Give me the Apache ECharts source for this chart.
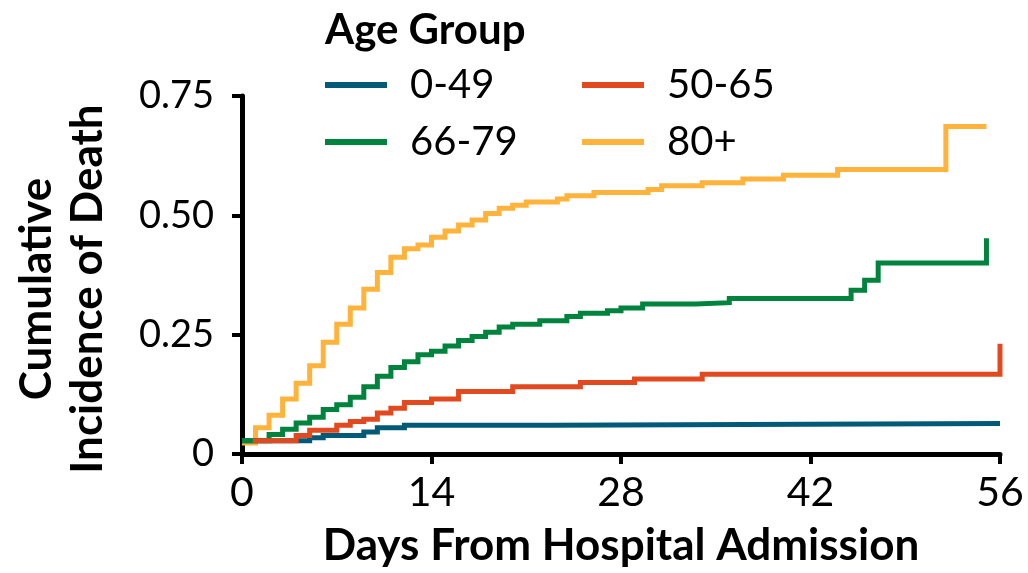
<!DOCTYPE html>
<html>
<head>
<meta charset="utf-8">
<script src="https://cdn.jsdelivr.net/npm/echarts@6/dist/echarts.min.js"></script>
<style>
html,body{margin:0;padding:0;background:#fff;}
#c{width:1028px;height:573px;}
</style>
</head>
<body>
<div id="c"></div>
<script>
// ---- data ----
const seriesNames = ['0-49', '50-65', '66-79', '80+'];
const seriesColors = ['#005a78', '#e2491e', '#00843d', '#ffb33a'];

const daysA = [0, 5, 6, 9, 10, 12, 23, 56];
const valsA = [0.028, 0.034, 0.039, 0.046, 0.055, 0.060, 0.064, 0.064];

const daysB = [0.8, 4, 5, 7, 8, 9, 10, 11, 12, 14, 16, 20, 25, 29, 34, 56, 56];
const valsB = [0.028, 0.039, 0.050, 0.060, 0.068, 0.073, 0.086, 0.096, 0.108, 0.115, 0.131, 0.141, 0.150, 0.157, 0.167, 0.167, 0.231];

const daysC = [0, 2, 3, 4, 5, 6, 7, 8, 9, 10, 11, 12, 13, 14, 15, 16, 17, 18, 19, 20, 22, 24, 25, 27, 28, 29.6, 33.5, 36, 45, 46, 47, 55, 55];
const valsC = [0.028, 0.041, 0.052, 0.065, 0.077, 0.093, 0.103, 0.119, 0.141, 0.163, 0.181, 0.193, 0.208, 0.215, 0.226, 0.238, 0.246, 0.255, 0.266, 0.272, 0.279, 0.288, 0.295, 0.300, 0.306, 0.314, 0.317, 0.326, 0.343, 0.364, 0.400, 0.400, 0.452];

const daysD = [0, 1, 2, 3, 4, 5, 6, 7, 8, 9, 10, 11, 12, 13, 14, 15, 16, 17, 18, 19, 20, 21, 23.3, 24, 26, 30, 31, 34, 37, 40, 44, 52, 55];
const valsD = [0.023, 0.055, 0.081, 0.115, 0.148, 0.185, 0.234, 0.272, 0.306, 0.345, 0.380, 0.412, 0.430, 0.438, 0.454, 0.467, 0.480, 0.490, 0.504, 0.515, 0.521, 0.528, 0.534, 0.541, 0.548, 0.554, 0.562, 0.568, 0.576, 0.584, 0.596, 0.686, 0.686];

const xTicks = [0, 14, 28, 42, 56];
const yTickLabels = ['0', '0.25', '0.50', '0.75'];

const allDays = [daysA, daysB, daysC, daysD];
const allVals = [valsA, valsB, valsC, valsD];
const zOrder = [3, 5, 4, 2];

// ---- chart ----
const FONT = 'Lato';
const chart = echarts.init(document.getElementById('c'));
const series = seriesNames.map((n, i) => ({
  name: n,
  type: 'line',
  step: 'end',
  showSymbol: false,
  symbol: 'none',
  data: allDays[i].map((d, j) => [d, allVals[i][j]]),
  lineStyle: { color: seriesColors[i], width: 5, cap: 'butt', join: 'miter' },
  itemStyle: { color: seriesColors[i] },
  z: zOrder[i]
}));

chart.setOption({
  animation: false,
  backgroundColor: '#fff',
  title: {
    text: 'Age Group',
    left: 320, top: 4,
    textStyle: { fontFamily: FONT, fontWeight: 'bold', fontSize: 42, color: '#000' }
  },
  legend: {
    data: seriesNames,
    left: 320, top: 60,
    width: 520,
    orient: 'horizontal',
    icon: 'rect',
    itemWidth: 62, itemHeight: 6,
    itemGap: 17,
    textStyle: { fontFamily: FONT, fontSize: 40, color: '#000', padding: [0, 0, 0, 18], width: 155, lineHeight: 40 }
  },
  grid: { left: 242, right: 28, top: 96, bottom: 115, containLabel: false },
  xAxis: {
    type: 'value', min: 0, max: 56, interval: 14,
    axisLine: { show: true, lineStyle: { color: '#000', width: 5 } },
    axisTick: { show: true, length: 10, lineStyle: { color: '#000', width: 4 } },
    axisLabel: { fontFamily: FONT, fontSize: 41, color: '#000', margin: 18,
      formatter: v => String(xTicks[xTicks.indexOf(v)]) },
    splitLine: { show: false },
    name: 'Days From Hospital Admission',
    nameLocation: 'middle', nameGap: 70,
    nameTextStyle: { fontFamily: FONT, fontWeight: 'bold', fontSize: 44, color: '#000' }
  },
  yAxis: {
    type: 'value', min: 0, max: 0.75, interval: 0.25,
    axisLine: { show: true, lineStyle: { color: '#000', width: 5 } },
    axisTick: { show: true, length: 10, lineStyle: { color: '#000', width: 4 } },
    axisLabel: { fontFamily: FONT, fontSize: 38, color: '#000', margin: 28,
      formatter: v => yTickLabels[Math.round(v / 0.25)] },
    splitLine: { show: false }
  },
  graphic: [{
    type: 'text',
    x: 62, y: 289,
    rotation: Math.PI / 2,
    style: {
      text: 'Cumulative\nIncidence of Death',
      fontFamily: FONT, fontWeight: 'bold', fontSize: 44, lineHeight: 51,
      fill: '#000', align: 'center', verticalAlign: 'middle'
    }
  }],
  series: series
});
</script>
</body>
</html>
